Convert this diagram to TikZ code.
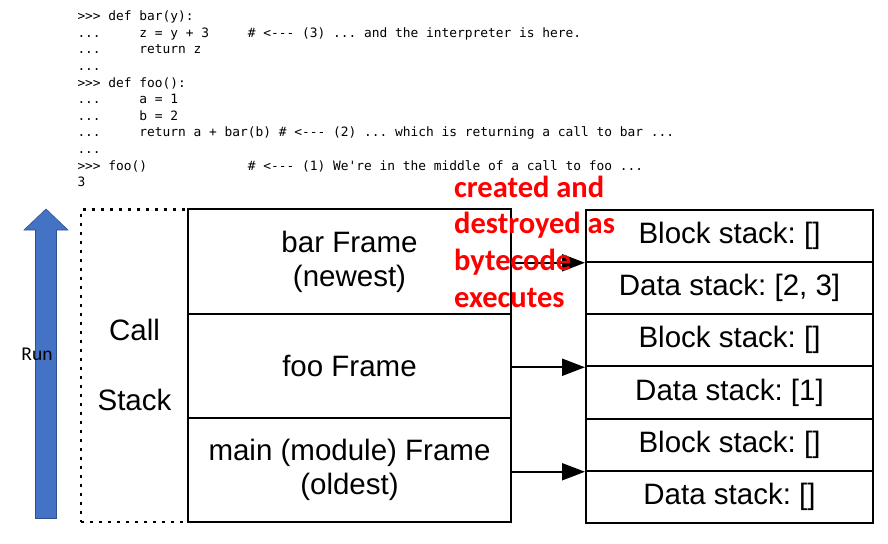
\documentclass[tikz,border=0pt]{standalone}
\usepackage{fontspec}
\setmainfont{Liberation Sans}
\newfontfamily\calibrifont{Carlito}
\newfontfamily\codefont{DejaVu Sans Mono}
\usetikzlibrary{arrows.meta}
\definecolor{runblue}{HTML}{4472C4}
\definecolor{runedge}{HTML}{2F528F}
\definecolor{notered}{HTML}{FF0000}
\frenchspacing
\begin{document}
\begin{tikzpicture}[x=1pt,y=-1pt,
  framebox/.style={draw, line width=2pt, minimum width=323pt, minimum height=104.17pt, inner sep=0pt, align=center, font=\fontsize{29.5}{34}\selectfont},
  cellbox/.style={draw, line width=2pt, minimum width=287pt, minimum height=52.25pt, inner sep=0pt, font=\fontsize{29.5}{34}\selectfont},
  codeline/.style={anchor=base west, inner sep=0pt, font=\codefont\fontsize{12.87}{14}\selectfont},
  redline/.style={anchor=base west, inner sep=0pt, text=notered, font=\calibrifont\bfseries\fontsize{30.5}{37}\selectfont},
  bigtext/.style={anchor=base, inner sep=0pt, font=\fontsize{29.5}{34}\selectfont},
  link/.style={line width=2pt, -{Triangle[length=23pt,width=17pt]}},
  dotbox/.style={draw, line width=2.2pt, dash pattern=on 3pt off 6pt, minimum width=107pt, minimum height=312.5pt, inner sep=0pt},
]
\useasboundingbox (0,0) rectangle (888,543);

% code
\node[codeline] (c1) at (77.3,20.7) {>>>~def~bar(y):};
\node[codeline] (c2) at (77.3,37.3) {...~~~~~z~=~y~+~3~~~~~\#~<-{}-{}-~(3)~...~and~the~interpreter~is~here.};
\node[codeline] (c3) at (77.3,53.9) {...~~~~~return~z};
\node[codeline] (c4) at (77.3,70.5) {...};
\node[codeline] (c5) at (77.3,87.1) {>>>~def~foo():};
\node[codeline] (c6) at (77.3,103.7) {...~~~~~a~=~1};
\node[codeline] (c7) at (77.3,120.3) {...~~~~~b~=~2};
\node[codeline] (c8) at (77.3,136.9) {...~~~~~return~a~+~bar(b)~\#~<-{}-{}-~(2)~...~which~is~returning~a~call~to~bar~...};
\node[codeline] (c9) at (77.3,153.5) {...};
\node[codeline] (c10) at (77.3,170.1) {>>>~foo()~~~~~~~~~~~~~\#~<-{}-{}-~(1)~We're~in~the~middle~of~a~call~to~foo~...};
\node[codeline] (c11) at (77.3,186.7) {3};

% run arrow
\draw[fill=runblue, draw=runedge, line width=0.6pt] (35.5,518.5) -- (35.5,230) -- (24,230) -- (46,209) -- (68,230) -- (56.5,230) -- (56.5,518.5) -- cycle;
\node[anchor=base, inner sep=0pt, font=\calibrifont\fontsize{19.5}{22}\selectfont] (run) at (37,360.5) {Run};

% call stack
\node[dotbox] (callstack) at (134.5,365.75) {};
\node[bigtext] (call) at (134.5,340) {Call};
\node[bigtext] (stack) at (134.5,410) {Stack};

% frames
\node[framebox] (bar) at (349.5,261.58) {bar Frame\\(newest)};
\node[framebox] (foo) at (349.5,365.75) {foo Frame};
\node[framebox] (main) at (349.5,469.92) {main (module) Frame\\(oldest)};

% block/data stacks
\node[cellbox] (b1) at (729.5,235.63) {Block stack: []};
\node[cellbox] (d1) at (729.5,287.88) {Data stack: [2, 3]};
\node[cellbox] (b2) at (729.5,340.13) {Block stack: []};
\node[cellbox] (d2) at (729.5,392.38) {Data stack: [1]};
\node[cellbox] (b3) at (729.5,444.63) {Block stack: []};
\node[cellbox] (d3) at (729.5,496.88) {Data stack: []};

% links
\draw[link] (bar.east |- b1.south west) -- (b1.south west);
\draw[link] (foo.east |- b2.south west) -- (b2.south west);
\draw[link] (main.east |- b3.south west) -- (b3.south west);

% red note
\node[redline] (r1) at (454,197) {created and};
\node[redline] (r2) at (454,233.7) {destroyed as};
\node[redline] (r3) at (454,270.4) {bytecode};
\node[redline] (r4) at (454,307.1) {executes};
\end{tikzpicture}
\end{document}
